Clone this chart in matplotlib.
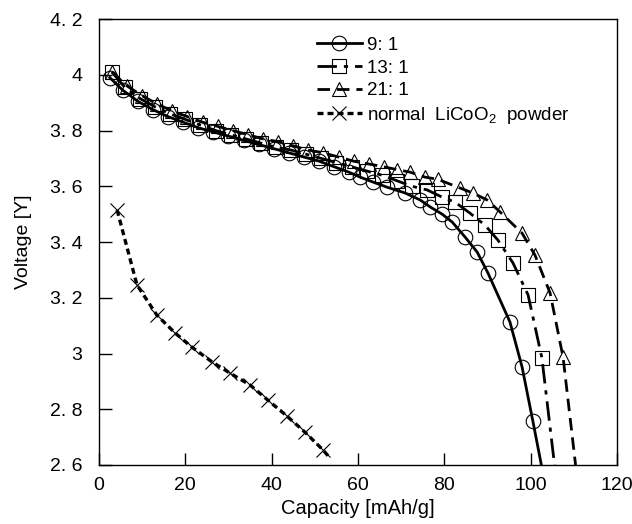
import matplotlib
matplotlib.use("Agg")
import matplotlib.pyplot as plt

plt.rcParams["font.family"] = ["Liberation Sans", "DejaVu Sans"]
plt.rcParams["mathtext.fontset"] = "custom"
plt.rcParams["mathtext.rm"] = "Liberation Sans"
plt.rcParams["mathtext.it"] = "Liberation Sans"

# 9:1 (circles, solid)
cap_9 = [2.5, 5.5, 9, 12.5, 16, 19.5, 23, 26.5, 30, 33.5, 37, 40.5, 44, 47.5,
         51, 54.5, 58, 60.5, 63.5, 66.7, 70.9, 74.4, 76.7, 79.5, 81.8, 84.8,
         87.6, 90.1, 95.2, 98.0, 100.5, 102.6]
volt_9 = [3.99, 3.945, 3.905, 3.875, 3.85, 3.83, 3.81, 3.795, 3.78, 3.765, 3.75,
          3.735, 3.72, 3.705, 3.69, 3.67, 3.65, 3.633, 3.615, 3.597, 3.576,
          3.551, 3.526, 3.50, 3.472, 3.418, 3.364, 3.289, 3.113, 2.952, 2.758,
          2.59]

# 13:1 (squares, dash-dot)
cap_13 = [3, 6, 9.5, 13, 16.5, 20, 23.5, 27, 30.5, 34, 37.5, 41, 44.5, 48, 51.5,
          55, 58.5, 62, 65.5, 69, 72.5, 76.0, 79.5, 82.5, 85.9, 89.4, 92.4,
          95.9, 99.4, 102.6, 105.6]
volt_13 = [4.01, 3.955, 3.915, 3.885, 3.86, 3.84, 3.82, 3.80, 3.785, 3.77, 3.755,
           3.74, 3.73, 3.715, 3.70, 3.685, 3.67, 3.655, 3.64, 3.62, 3.60, 3.587,
           3.561, 3.543, 3.504, 3.461, 3.407, 3.325, 3.210, 2.984, 2.59]

# 21:1 (triangles, dashed)
cap_21 = [3, 6.5, 10, 13.5, 17, 20.5, 24, 27.5, 31, 34.5, 38, 41.5, 45, 48.5, 52,
          55.5, 59, 62.5, 66, 69, 72.0, 75.5, 78.5, 83.6, 86.6, 89.9, 92.9, 98.0,
          101.0, 104.5, 107.5, 110.4]
volt_21 = [4.01, 3.96, 3.925, 3.895, 3.87, 3.85, 3.83, 3.815, 3.80, 3.785, 3.77,
           3.76, 3.745, 3.73, 3.72, 3.705, 3.69, 3.68, 3.67, 3.66, 3.651, 3.633,
           3.625, 3.594, 3.576, 3.551, 3.508, 3.432, 3.353, 3.217, 2.987, 2.60]

# normal LiCoO2 powder (crosses, short dashes)
cap_n = [4.2, 8.8, 13.4, 17.6, 21.5, 26.2, 30.3, 35.0, 39.1, 43.5, 47.7, 51.9, 53.5]
volt_n = [3.515, 3.246, 3.138, 3.074, 3.023, 2.970, 2.930, 2.887, 2.833, 2.776,
          2.718, 2.654, 2.625]

xticks = [0, 20, 40, 60, 80, 100, 120]
yticks = [2.6, 2.8, 3.0, 3.2, 3.4, 3.6, 3.8, 4.0, 4.2]
ylabels = ["2. 6", "2. 8", "3", "3. 2", "3. 4", "3. 6", "3. 8", "4", "4. 2"]

fig = plt.figure(figsize=(6.32, 5.24), dpi=100)
ax = fig.add_axes([0.1566, 0.1126, 0.8197, 0.851])

mk = dict(markersize=10.5, markerfacecolor="none", markeredgecolor="black",
          markeredgewidth=0.8, color="black", linewidth=2.0)

ax.plot(cap_9, volt_9, "-", marker="o", markevery=list(range(len(cap_9) - 1)),
        label="9: 1", **mk)
ax.plot(cap_13, volt_13, marker="s", linestyle=(0, (7, 2.5, 1.5, 2.5)),
        markevery=list(range(len(cap_13) - 1)), label="13: 1", **mk)
ax.plot(cap_21, volt_21, marker="^", linestyle=(0, (4.5, 2.5)),
        markevery=list(range(len(cap_21) - 1)), label="21: 1", **mk)
ax.plot(cap_n, volt_n, marker="x", linestyle=(0, (1.8, 1.2)),
        markevery=list(range(len(cap_n) - 1)), label="normal  LiCoO$_2$  powder",
        **dict(mk, linewidth=2.4))

ax.set_xlim(0, 120)
ax.set_ylim(2.6, 4.2)
ax.set_xticks(xticks)
ax.set_yticks(yticks)
ax.set_yticklabels(ylabels)
ax.tick_params(direction="in", length=9, width=1, labelsize=14)
ax.tick_params(axis="y", pad=12)
ax.tick_params(axis="x", pad=9)
for s in ax.spines.values():
    s.set_linewidth(1)

ax.set_xlabel("Capacity [mAh/g]", fontsize=14.5, labelpad=3)
ax.set_ylabel("Voltage [Y]", fontsize=14, labelpad=13)

ax.legend(loc="upper left", bbox_to_anchor=(0.395, 0.99), frameon=False,
          fontsize=13.5, handlelength=2.4, handletextpad=0.3, labelspacing=0.3,
          borderpad=0.2)

fig.savefig("out.png", dpi=100)
